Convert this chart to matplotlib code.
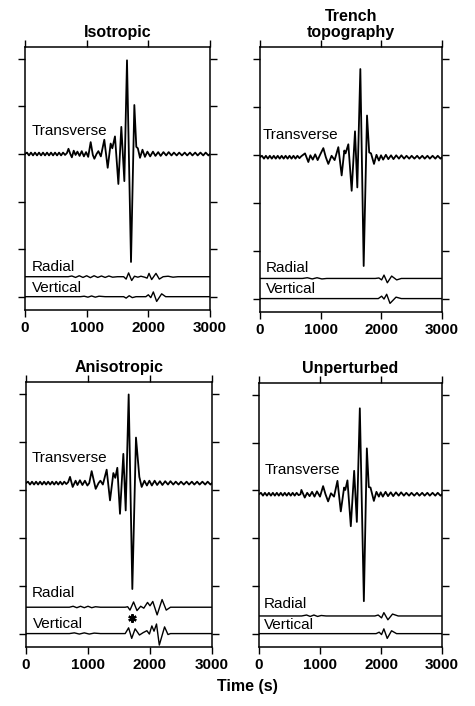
import matplotlib
matplotlib.use('Agg')
import matplotlib.pyplot as plt

plt.rcParams['font.family'] = ['Liberation Sans', 'DejaVu Sans']

# ---------------- axes / labels ----------------
x_ticks = [0, 1000, 2000, 3000]
x_ticklabels = ['0', '1000', '2000', '3000']
y_ticks = [0, 1, 2, 3, 4, 5]
titles = ['Isotropic', 'Trench\ntopography', 'Anisotropic', 'Unperturbed']
components = ['Transverse', 'Radial', 'Vertical']
xlabel = 'Time (s)'

# baselines (transverse, radial, vertical) per panel, in tick units
iso_base = [3.0, 0.42, 0.0]
tre_base = [2.95, 0.42, 0.0]
ani_base = [3.14, 0.55, 0.0]
unp_base = [2.92, 0.37, 0.0]

# ---------------- transverse coda / precursor ripples ----------------
ripple_pre_t = [0, 32, 65, 97, 130, 162, 195, 227, 260, 292, 325, 357, 390, 422,
                455, 487, 520, 552, 585, 617, 650]
ripple_pre_a = [0, 0.03, -0.03, 0.03, -0.03, 0.03, -0.03, 0.03, -0.03, 0.03, -0.03,
                0.03, -0.03, 0.03, -0.03, 0.03, -0.03, 0.03, -0.03, 0.03, -0.02]
ripple_post_t = [2030, 2075, 2115, 2160, 2200, 2245, 2290, 2330, 2375, 2415, 2460,
                 2500, 2545, 2590, 2630, 2675, 2715, 2760, 2800, 2845, 2890, 2930,
                 2975, 3000]
ripple_post_a = [-0.05, 0.05, -0.04, 0.04, -0.04, 0.04, -0.03, 0.04, -0.03, 0.03,
                 -0.03, 0.03, -0.03, 0.03, -0.03, 0.03, -0.03, 0.03, -0.03, 0.03,
                 -0.03, 0.03, -0.03, 0.0]

# ---------------- Isotropic ----------------
iso_T_t = [680, 705, 735, 760, 790, 820, 850, 885, 920, 955, 990, 1025, 1065, 1100,
           1125, 1160, 1190, 1230, 1286, 1341, 1389, 1416, 1459, 1514, 1562, 1611,
           1654, 1719, 1773, 1805, 1830, 1865, 1905, 1945, 1985]
iso_T_a = [0.02, 0.11, 0.0, -0.07, 0.07, -0.02, 0.05, -0.04, 0.06, -0.05, 0.04, -0.06,
           0.25, -0.02, -0.1, 0.0, 0.06, -0.05, 0.3, -0.29, 0.22, 0.12, 0.37, -0.63,
           0.57, -0.57, 1.97, -2.27, 1.03, 0.15, 0.12, -0.08, 0.09, -0.06, 0.05]
iso_R_t = [0, 700, 760, 820, 880, 940, 1000, 1060, 1120, 1180, 1240, 1300, 1360, 1420,
           1500, 1600, 1640, 1680, 1730, 1775, 1830, 1880, 1940, 1980, 2011, 2054,
           2124, 2178, 2240, 2320, 2400, 2480, 3000]
iso_R_a = [0, 0, 0.015, -0.015, 0.02, -0.015, 0.02, -0.02, 0.02, -0.015, 0.015, -0.015,
           0.015, -0.01, 0.0, 0.0, -0.05, 0.08, -0.08, 0.01, -0.01, 0.01, -0.01, -0.03,
           0.07, -0.06, 0.07, -0.05, 0.0, 0.01, -0.01, 0.0, 0.0]
iso_V_t = [0, 900, 960, 1020, 1080, 1140, 1200, 1300, 1600, 1640, 1690, 1740, 1800,
           1960, 2000, 2040, 2081, 2135, 2216, 2281, 3000]
iso_V_a = [0, 0, 0.01, -0.01, 0.015, -0.01, 0.01, 0, 0, -0.03, 0.02, -0.02, 0, 0,
           0.04, -0.02, 0.1, -0.1, 0.06, 0, 0]

# ---------------- Trench topography ----------------
tre_T_t = [680, 742, 797, 830, 870, 910, 950, 990, 1044, 1085, 1126, 1180, 1230, 1291,
           1346, 1390, 1410, 1456, 1511, 1566, 1604, 1654, 1709, 1764, 1800, 1830,
           1879, 1920, 1960, 1995]
tre_T_a = [0.02, 0.08, -0.1, 0.04, -0.05, 0.06, -0.06, 0.05, 0.19, 0.0, -0.14, 0.03,
           -0.06, 0.21, -0.38, 0.14, 0.08, 0.27, -0.7, 0.54, -0.63, 1.84, -2.27, 0.87,
           0.1, 0.08, -0.14, 0.05, -0.07, 0.04]
tre_R_t = [0, 700, 780, 860, 940, 1020, 1100, 1900, 1960, 2005, 2044, 2099, 2170,
           2253, 2330, 3000]
tre_R_a = [0, 0, 0.015, -0.01, 0.015, -0.01, 0, 0, 0.01, -0.03, 0.07, -0.09, 0.05,
           -0.03, 0, 0]
tre_V_t = [0, 1950, 2005, 2044, 2088, 2143, 2242, 2330, 3000]
tre_V_a = [0, 0, 0.05, -0.01, 0.09, -0.1, 0.03, 0, 0]

# ---------------- Anisotropic ----------------
ani_T_t = [680, 710, 753, 800, 830, 870, 910, 950, 990, 1020, 1059, 1124, 1170, 1200,
           1240, 1301, 1355, 1409, 1440, 1473, 1516, 1570, 1608, 1656, 1715, 1774,
           1828, 1866, 1910, 1950, 1990]
ani_T_a = [0.02, 0.13, -0.08, 0.05, -0.04, 0.06, -0.04, 0.05, -0.05, 0.0, 0.25, -0.12,
           0.0, 0.05, -0.03, 0.28, -0.36, 0.21, 0.11, 0.32, -0.64, 0.61, -0.57, 1.85,
           -2.21, 0.95, 0.13, -0.08, 0.05, -0.05, 0.05]
ani_R_t = [0, 700, 760, 820, 880, 940, 1000, 1060, 1120, 1200, 1600, 1640, 1677, 1735,
           1790, 1850, 1900, 1960, 2000, 2045, 2115, 2195, 2262, 2330, 3000]
ani_R_a = [0, 0, 0.02, -0.01, 0.02, -0.01, 0.02, -0.01, 0.01, 0, 0, 0.01, -0.06, 0.11,
           -0.07, 0.02, -0.02, 0.1, 0.03, 0.12, -0.16, 0.16, -0.06, 0, 0]
ani_V_t = [0, 700, 780, 860, 940, 1020, 1100, 1200, 1600, 1655, 1705, 1760, 1830, 1890,
           1950, 1990, 2030, 2065, 2105, 2150, 2235, 2290, 2330, 3000]
ani_V_a = [0, 0, 0.015, -0.01, 0.015, -0.01, 0.01, 0, 0, 0.12, -0.1, 0.1, -0.03, 0.02,
           0.06, -0.01, 0.16, 0.05, 0.2, -0.24, 0.14, -0.02, 0, 0]
ani_star = (1704, 0.33)

# ---------------- Unperturbed ----------------
unp_T_t = [680, 695, 750, 790, 830, 870, 910, 950, 1000, 1051, 1090, 1133, 1180, 1230,
           1286, 1341, 1395, 1415, 1450, 1505, 1560, 1604, 1653, 1719, 1768, 1800,
           1828, 1883, 1925, 1965, 1995]
unp_T_a = [0.0, 0.09, -0.07, 0.03, -0.04, 0.05, -0.05, 0.06, -0.05, 0.17, 0.0, -0.15,
           0.02, -0.05, 0.28, -0.36, 0.14, 0.09, 0.29, -0.67, 0.49, -0.58, 1.8, -2.24,
           0.96, 0.15, 0.14, -0.14, 0.05, -0.05, 0.04]
unp_R_t = [0, 700, 780, 840, 900, 960, 1020, 1100, 1900, 1954, 2009, 2047, 2113, 2189,
           2282, 3000]
unp_R_a = [0, 0, 0.02, -0.01, 0.02, -0.01, 0.01, 0, 0, 0.02, -0.04, 0.07, -0.08, 0.04,
           0, 0]
unp_V_t = [0, 1920, 1970, 2009, 2047, 2102, 2173, 2255, 3000]
unp_V_a = [0, 0, 0.03, -0.02, 0.1, -0.1, 0.06, 0, 0]

panels = [
    dict(title=titles[0], base=iso_base,
         T=(iso_T_t, iso_T_a), R=(iso_R_t, iso_R_a), V=(iso_V_t, iso_V_a),
         pos=[25 / 475, 1 - 310 / 706, 185 / 475, 263 / 706],
         lab=[(113, 3.40), (113, 0.55), (113, 0.09)]),
    dict(title=titles[1], base=tre_base,
         T=(tre_T_t, tre_T_a), R=(tre_R_t, tre_R_a), V=(tre_V_t, tre_V_a),
         pos=[260 / 475, 1 - 312 / 706, 182 / 475, 265 / 706],
         lab=[(50, 3.33), (100, 0.55), (100, 0.11)]),
    dict(title=titles[2], base=ani_base,
         T=(ani_T_t, ani_T_a), R=(ani_R_t, ani_R_a), V=(ani_V_t, ani_V_a),
         pos=[26 / 475, 1 - 647 / 706, 186 / 475, 265 / 706],
         lab=[(92, 3.58), (100, 0.77), (110, 0.12)]),
    dict(title=titles[3], base=unp_base,
         T=(unp_T_t, unp_T_a), R=(unp_R_t, unp_R_a), V=(unp_V_t, unp_V_a),
         pos=[259 / 475, 1 - 647 / 706, 183 / 475, 264 / 706],
         lab=[(98, 3.35), (80, 0.54), (80, 0.10)]),
]

fig = plt.figure(figsize=(4.75, 7.06), dpi=100)

for i, p in enumerate(panels):
    ax = fig.add_axes(p['pos'])
    ax.set_xlim(0, 3000)
    ax.set_ylim(-0.28, 5.25)

    # transverse: precursor ripples + main arrival + coda ripples
    tt = ripple_pre_t + p['T'][0] + ripple_post_t
    ta = ripple_pre_a + p['T'][1] + ripple_post_a
    ax.plot(tt, [p['base'][0] + a for a in ta], color='black', lw=1.3,
            solid_joinstyle='round')
    ax.plot(p['R'][0], [p['base'][1] + a for a in p['R'][1]], color='black', lw=1.0)
    ax.plot(p['V'][0], [p['base'][2] + a for a in p['V'][1]], color='black', lw=1.0)

    for comp, (lx, ly) in zip(components, p['lab']):
        ax.text(lx, ly, comp, fontsize=11, va='baseline', ha='left')

    ax.text(0.5, 1.027, p['title'], transform=ax.transAxes, ha='center',
            va='bottom', fontsize=11.5, fontweight='bold', linespacing=1.05)

    ax.set_xticks(x_ticks)
    ax.set_xticklabels(x_ticklabels, fontsize=11, fontweight='bold')
    ax.set_yticks(y_ticks)
    ax.tick_params(axis='both', direction='out', length=5, width=1.0,
                   top=True, right=True, labelleft=False, labelright=False,
                   labeltop=False, pad=3)
    for s in ax.spines.values():
        s.set_linewidth(1.1)

    if i == 2:
        ax.plot([ani_star[0]], [ani_star[1]], marker=(6, 2, 0), ms=6, mew=1.6,
                color='black', linestyle='none')

fig.text(247 / 475, 1 - 691 / 706, xlabel, ha='center', va='baseline',
         fontsize=11.5, fontweight='bold')

fig.savefig('out.png', dpi=100)
